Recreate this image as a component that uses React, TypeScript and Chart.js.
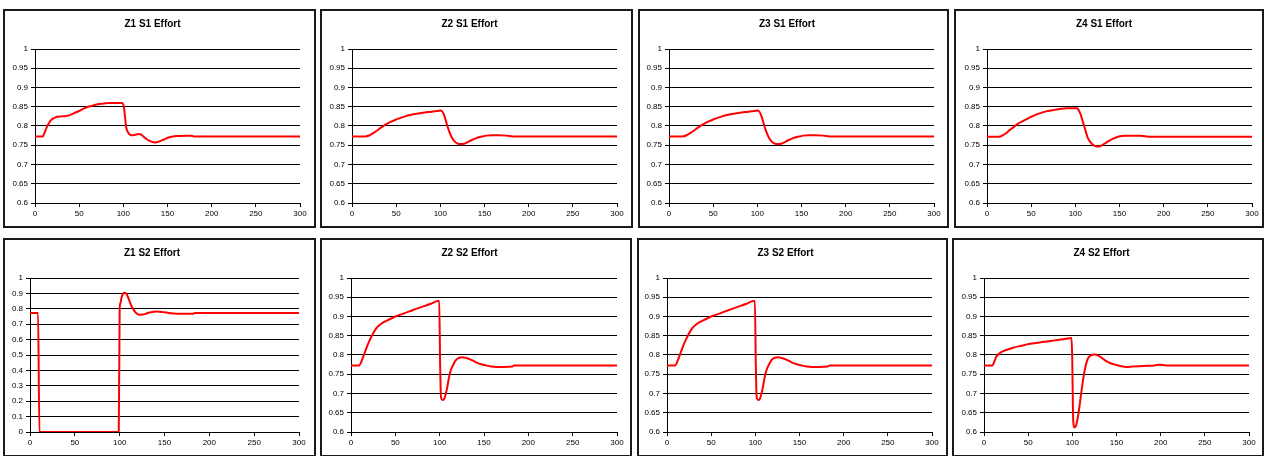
import React, { useEffect, useRef } from "react";
import { Chart, registerables } from "chart.js";

Chart.register(...registerables);

const FONT = "'Liberation Sans', Arial, Helvetica, sans-serif";

// ---- Data (time in s, effort 0..1) ----
const z1s1T = [0, 9, 10, 13, 17, 21, 25, 30, 35, 40, 45, 50, 55, 60, 65, 70, 75, 80, 85, 90, 95, 99, 100, 101, 102, 103, 104, 106, 108, 110, 113, 117, 120, 123, 127, 131, 136, 141, 146, 151, 156, 162, 170, 176, 180, 300];
const z1s1Y = [0.773, 0.773, 0.778, 0.795, 0.812, 0.82, 0.824, 0.825, 0.826, 0.829, 0.834, 0.839, 0.845, 0.85, 0.853, 0.856, 0.858, 0.859, 0.86, 0.86, 0.86, 0.86, 0.855, 0.843, 0.822, 0.8, 0.79, 0.781, 0.777, 0.776, 0.777, 0.779, 0.778, 0.772, 0.765, 0.76, 0.757, 0.76, 0.765, 0.77, 0.773, 0.774, 0.775, 0.775, 0.773, 0.773];

const z2s1T = [0, 15, 20, 25, 30, 35, 40, 45, 50, 55, 60, 67, 74, 82, 90, 97, 100, 102, 104, 106, 108, 110, 113, 116, 120, 124, 127, 130, 135, 140, 146, 152, 158, 166, 175, 182, 300];
const z2s1Y = [0.773, 0.773, 0.776, 0.783, 0.791, 0.799, 0.806, 0.812, 0.817, 0.821, 0.825, 0.829, 0.832, 0.835, 0.837, 0.839, 0.84, 0.838, 0.83, 0.816, 0.8, 0.786, 0.77, 0.76, 0.754, 0.753, 0.754, 0.757, 0.763, 0.768, 0.772, 0.775, 0.776, 0.776, 0.775, 0.773, 0.773];

const z3s1T = [0, 15, 20, 25, 30, 35, 40, 45, 50, 55, 60, 67, 74, 82, 90, 97, 100, 102, 104, 106, 108, 110, 113, 116, 120, 124, 127, 130, 135, 140, 146, 152, 158, 166, 175, 182, 300];
const z3s1Y = [0.773, 0.773, 0.776, 0.783, 0.791, 0.799, 0.806, 0.812, 0.817, 0.821, 0.825, 0.829, 0.832, 0.835, 0.837, 0.839, 0.84, 0.838, 0.83, 0.816, 0.8, 0.786, 0.77, 0.76, 0.754, 0.753, 0.754, 0.757, 0.763, 0.768, 0.772, 0.775, 0.776, 0.776, 0.775, 0.773, 0.773];

const z4s1T = [0, 14, 18, 22, 26, 30, 35, 40, 45, 50, 55, 60, 67, 74, 82, 90, 97, 102, 104, 106, 108, 110, 112, 114, 117, 120, 124, 127, 130, 135, 140, 146, 152, 157, 165, 173, 180, 184, 300];
const z4s1Y = [0.772, 0.772, 0.776, 0.782, 0.79, 0.797, 0.806, 0.812, 0.818, 0.824, 0.829, 0.833, 0.838, 0.841, 0.844, 0.846, 0.846, 0.846, 0.84, 0.83, 0.815, 0.8, 0.784, 0.77, 0.758, 0.751, 0.747, 0.747, 0.75, 0.757, 0.764, 0.77, 0.774, 0.775, 0.775, 0.775, 0.773, 0.772, 0.772];

const z1s2T = [0, 9, 10.5, 99, 100, 101, 102, 103.5, 105.5, 107, 109, 111, 113, 116, 119, 122, 126, 130, 135, 140, 145, 150, 155, 160, 165, 175, 182, 184, 300];
const z1s2Y = [0.773, 0.773, 0, 0, 0.8, 0.84, 0.87, 0.895, 0.905, 0.9, 0.88, 0.85, 0.82, 0.79, 0.77, 0.762, 0.763, 0.77, 0.778, 0.782, 0.781, 0.777, 0.773, 0.77, 0.768, 0.768, 0.768, 0.773, 0.773];

const z2s2T = [0, 9.5, 12, 15, 18, 21, 24, 28, 34, 42, 50, 60, 70, 80, 90, 98, 99.5, 100.5, 101.5, 103.5, 105.5, 108, 111, 113, 115, 118, 122, 126, 130, 135, 141, 147, 152, 158, 164, 172, 182, 184, 300];
const z2s2Y = [0.773, 0.773, 0.785, 0.803, 0.822, 0.838, 0.852, 0.868, 0.881, 0.891, 0.9, 0.908, 0.917, 0.925, 0.933, 0.94, 0.94, 0.78, 0.69, 0.683, 0.688, 0.71, 0.747, 0.763, 0.773, 0.786, 0.793, 0.794, 0.792, 0.788, 0.781, 0.776, 0.773, 0.77, 0.769, 0.769, 0.77, 0.773, 0.773];

const z3s2T = [0, 9.5, 12, 15, 18, 21, 24, 28, 34, 42, 50, 60, 70, 80, 90, 98, 99.5, 100.5, 101.5, 103.5, 105.5, 108, 111, 113, 115, 118, 122, 126, 130, 135, 141, 147, 152, 158, 164, 172, 182, 184, 300];
const z3s2Y = [0.773, 0.773, 0.785, 0.803, 0.822, 0.838, 0.852, 0.868, 0.881, 0.891, 0.9, 0.908, 0.917, 0.925, 0.933, 0.94, 0.94, 0.78, 0.69, 0.683, 0.688, 0.71, 0.747, 0.763, 0.773, 0.786, 0.793, 0.794, 0.792, 0.788, 0.781, 0.776, 0.773, 0.77, 0.769, 0.769, 0.77, 0.773, 0.773];

const z4s2T = [0, 9.5, 12, 14, 17, 20, 25, 33, 42, 52, 61, 71, 80, 90, 99, 99.8, 101, 102.5, 104, 106, 108, 110, 112, 114, 116, 118, 121, 125, 129, 133, 138, 144, 150, 155, 161, 168, 176, 185, 193, 199, 206, 300];
const z4s2Y = [0.773, 0.773, 0.785, 0.796, 0.803, 0.808, 0.813, 0.819, 0.824, 0.829, 0.832, 0.835, 0.838, 0.841, 0.844, 0.8, 0.63, 0.612, 0.615, 0.635, 0.665, 0.7, 0.733, 0.76, 0.78, 0.792, 0.799, 0.801, 0.799, 0.793, 0.785, 0.778, 0.774, 0.771, 0.769, 0.77, 0.771, 0.772, 0.773, 0.775, 0.773, 0.773];

const titles = ["Z1 S1 Effort", "Z2 S1 Effort", "Z3 S1 Effort", "Z4 S1 Effort", "Z1 S2 Effort", "Z2 S2 Effort", "Z3 S2 Effort", "Z4 S2 Effort"];

type PanelProps = {
  title: string;
  t: number[];
  y: number[];
  yMin: number;
  yMax: number;
  yStep: number;
  left: number;
  top: number;
  width: number;
  height: number;
  axisW: number;
  padR: number;
};

function Panel(p: PanelProps) {
  const ref = useRef<HTMLCanvasElement>(null);
  useEffect(() => {
    if (!ref.current) return;
    const chart = new Chart(ref.current, {
      type: "line",
      data: {
        datasets: [
          {
            data: p.t.map((x, i) => ({ x, y: p.y[i] })),
            borderColor: "#ff0000",
            backgroundColor: "#ff0000",
            borderWidth: 2,
            pointRadius: 0,
            cubicInterpolationMode: "monotone",
            fill: false,
          },
        ],
      },
      options: {
        animation: false,
        responsive: false,
        devicePixelRatio: 1,
        layout: { padding: { left: 0, right: p.padR, top: 0, bottom: 0 } },
        plugins: {
          legend: { display: false },
          tooltip: { enabled: false },
          title: {
            display: true,
            text: p.title,
            color: "#000",
            font: { family: FONT, size: 10, weight: "bold", lineHeight: 1.2 },
            padding: { top: 7, bottom: 19 },
          },
        },
        scales: {
          x: {
            type: "linear",
            min: 0,
            max: 300,
            ticks: {
              stepSize: 50,
              color: "#000",
              font: { family: FONT, size: 8 },
              padding: 2,
              maxRotation: 0,
              autoSkip: false,
            },
            grid: { drawOnChartArea: false, drawTicks: true, tickLength: 4, color: "#000" },
            border: { display: true, color: "#000", width: 1 },
            afterFit: (s: any) => {
              s.height = 23;
            },
          },
          y: {
            type: "linear",
            min: p.yMin,
            max: p.yMax,
            ticks: {
              stepSize: p.yStep,
              color: "#000",
              font: { family: FONT, size: 8 },
              padding: 3,
              callback: (v: any) => String(+Number(v).toFixed(2)),
            },
            grid: { color: "#000", tickLength: 4, lineWidth: 1 },
            border: { display: true, color: "#000", width: 1 },
            afterFit: (s: any) => {
              s.width = p.axisW;
            },
          },
        },
      } as any,
    });
    return () => chart.destroy();
  }, []);
  return (
    <div
      style={{
        position: "absolute",
        left: p.left,
        top: p.top,
        width: p.width,
        height: p.height,
        border: "2px solid #1a1a1a",
        boxSizing: "border-box",
        background: "#fff",
      }}
    >
      <canvas ref={ref} width={p.width - 4} height={p.height - 4} style={{ display: "block" }} />
    </div>
  );
}

export default function App() {
  const H = 219;
  const panels: PanelProps[] = [
    { title: titles[0], t: z1s1T, y: z1s1Y, yMin: 0.6, yMax: 1, yStep: 0.05, left: 3, top: 9, width: 313, height: H, axisW: 30, padR: 14 },
    { title: titles[1], t: z2s1T, y: z2s1Y, yMin: 0.6, yMax: 1, yStep: 0.05, left: 320, top: 9, width: 313, height: H, axisW: 30, padR: 14 },
    { title: titles[2], t: z3s1T, y: z3s1Y, yMin: 0.6, yMax: 1, yStep: 0.05, left: 638, top: 9, width: 311, height: H, axisW: 29, padR: 13 },
    { title: titles[3], t: z4s1T, y: z4s1Y, yMin: 0.6, yMax: 1, yStep: 0.05, left: 954, top: 9, width: 310, height: H, axisW: 31, padR: 10 },
    { title: titles[4], t: z1s2T, y: z1s2Y, yMin: 0, yMax: 1, yStep: 0.1, left: 3, top: 238, width: 313, height: H, axisW: 25, padR: 15 },
    { title: titles[5], t: z2s2T, y: z2s2Y, yMin: 0.6, yMax: 1, yStep: 0.05, left: 320, top: 238, width: 312, height: H, axisW: 29, padR: 13 },
    { title: titles[6], t: z3s2T, y: z3s2Y, yMin: 0.6, yMax: 1, yStep: 0.05, left: 637, top: 238, width: 311, height: H, axisW: 28, padR: 14 },
    { title: titles[7], t: z4s2T, y: z4s2Y, yMin: 0.6, yMax: 1, yStep: 0.05, left: 952, top: 238, width: 312, height: H, axisW: 30, padR: 13 },
  ];
  return (
    <div
      style={{
        position: "fixed",
        left: 0,
        top: 0,
        width: 1266,
        height: 456,
        overflow: "hidden",
        background: "#fff",
      }}
    >
      {panels.map((p, i) => (
        <Panel key={i} {...p} />
      ))}
    </div>
  );
}
